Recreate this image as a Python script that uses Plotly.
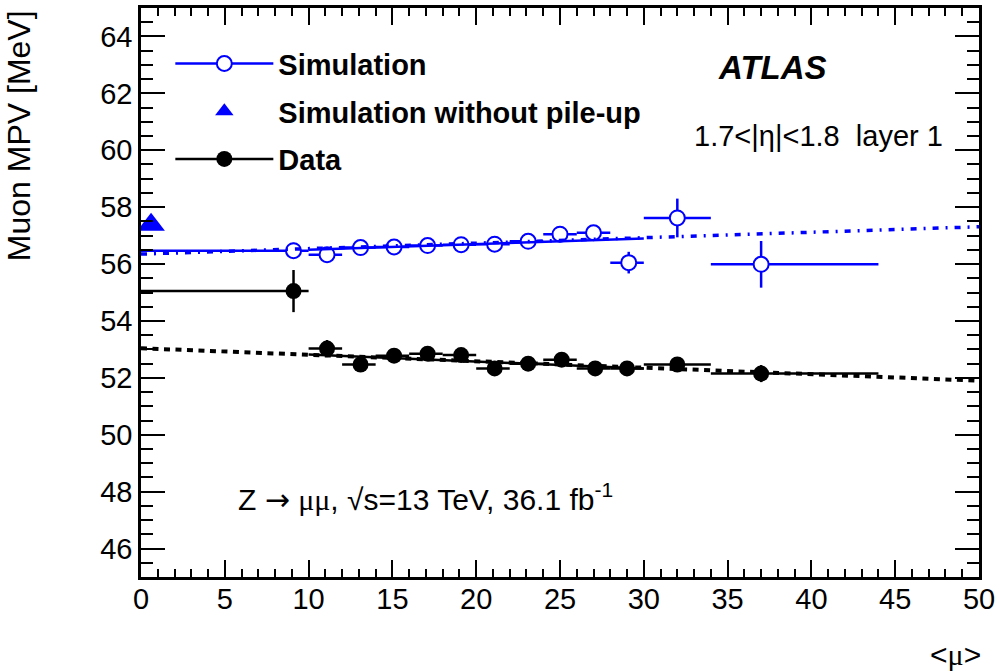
import plotly.graph_objects as go

# ---------------- data ----------------
sim_mu = [9.1, 11.1, 13.1, 15.1, 17.1, 19.1, 21.1, 23.1, 25.0, 27.0, 29.1, 32.0, 37.0]
sim_mpv = [56.47, 56.33, 56.58, 56.60, 56.65, 56.68, 56.70, 56.80, 57.05, 57.10, 56.05, 57.62, 55.99]
sim_err = [0.28, 0.25, 0.12, 0.10, 0.10, 0.10, 0.10, 0.10, 0.12, 0.15, 0.38, 0.68, 0.82]

data_mu = [9.1, 11.1, 13.1, 15.1, 17.1, 19.1, 21.1, 23.1, 25.1, 27.1, 29.0, 32.0, 37.0]
data_mpv = [55.05, 53.03, 52.47, 52.78, 52.85, 52.80, 52.33, 52.50, 52.64, 52.33, 52.33, 52.47, 52.15]
data_err = [0.74, 0.30, 0.15, 0.15, 0.15, 0.15, 0.15, 0.15, 0.15, 0.15, 0.15, 0.15, 0.30]

bin_lo = [0, 10, 12, 14, 16, 18, 20, 22, 24, 26, 28, 30, 34]
bin_hi = [10, 12, 14, 16, 18, 20, 22, 24, 26, 28, 30, 34, 44]

nopu_mu = [0.6]
nopu_mpv = [57.38]

fit_mu = [0, 50]
sim_fit_mpv = [56.35, 57.31]
data_fit_mpv = [53.04, 51.90]

fitrange_mu = [10, 30]
sim_fitrange_mpv = [56.50, 56.90]
data_fitrange_mpv = [52.82, 52.33]

x_ticks = [0, 5, 10, 15, 20, 25, 30, 35, 40, 45, 50]
y_ticks = [46, 48, 50, 52, 54, 56, 58, 60, 62, 64]

FONT = "Liberation Sans, Arial, Helvetica, sans-serif"
BLUE = "#0000ff"

def xerr(mu):
    plus = [h - m for m, h in zip(mu, bin_hi)]
    minus = [m - l for m, l in zip(mu, bin_lo)]
    return plus, minus

fig = go.Figure()

sp, sm = xerr(sim_mu)
fig.add_trace(go.Scatter(
    x=sim_mu, y=sim_mpv, mode="markers", showlegend=False,
    marker=dict(symbol="circle", size=15, color="white", line=dict(width=2, color=BLUE)),
    error_x=dict(type="data", array=sp, arrayminus=sm, color=BLUE, thickness=2.5, width=0),
    error_y=dict(type="data", array=sim_err, color=BLUE, thickness=2.5, width=0),
))
dp, dm = xerr(data_mu)
fig.add_trace(go.Scatter(
    x=data_mu, y=data_mpv, mode="markers", showlegend=False,
    marker=dict(symbol="circle", size=16, color="black"),
    error_x=dict(type="data", array=dp, arrayminus=dm, color="black", thickness=2.5, width=0),
    error_y=dict(type="data", array=data_err, color="black", thickness=2.5, width=0),
))

# fit lines (extrapolated)
fig.add_trace(go.Scatter(x=fit_mu, y=sim_fit_mpv, mode="lines", showlegend=False,
                         line=dict(color=BLUE, width=3.5, dash="6px,7px,2px,7px")))
fig.add_trace(go.Scatter(x=fit_mu, y=data_fit_mpv, mode="lines", showlegend=False,
                         line=dict(color="black", width=4, dash="6px,5.5px")))
# fit lines in fit range
fig.add_trace(go.Scatter(x=fitrange_mu, y=sim_fitrange_mpv, mode="lines", showlegend=False,
                         line=dict(color=BLUE, width=2.5)))
fig.add_trace(go.Scatter(x=fitrange_mu, y=data_fitrange_mpv, mode="lines", showlegend=False,
                         line=dict(color="black", width=2.5)))

fig.add_trace(go.Scatter(
    x=nopu_mu, y=nopu_mpv, mode="markers", showlegend=False,
    marker=dict(symbol="triangle-up", size=24, color=BLUE),
))

# legend entries
fig.add_trace(go.Scatter(x=[None], y=[None], mode="lines+markers", name="Simulation",
                         legendgroup="a",
                         line=dict(color=BLUE, width=2.5),
                         marker=dict(symbol="circle", size=15, color="white", line=dict(width=2, color=BLUE))))
fig.add_trace(go.Scatter(x=[None], y=[None], mode="markers", name="Simulation without pile-up",
                         legendgroup="b",
                         marker=dict(symbol="triangle-up", size=24, color=BLUE)))
fig.add_trace(go.Scatter(x=[None], y=[None], mode="lines+markers", name="Data",
                         legendgroup="c",
                         line=dict(color="black", width=2.5),
                         marker=dict(symbol="circle", size=16, color="black")))

axis_common = dict(
    showgrid=False, zeroline=False, showline=True, linecolor="black", linewidth=2.5,
    mirror="allticks", ticks="inside", tickcolor="black", tickwidth=1.5,
    tickfont=dict(family=FONT, size=29, color="black"),
)
fig.update_xaxes(range=[0, 50], tickvals=x_ticks, ticktext=[str(v) for v in x_ticks],
                 ticklen=17, ticklabelstandoff=-6,
                 minor=dict(dtick=1, ticklen=8, ticks="inside", tickcolor="black", tickwidth=1.5),
                 **axis_common)
fig.update_yaxes(range=[45, 65], tickvals=y_ticks, ticktext=[str(v) for v in y_ticks],
                 ticklen=24,
                 minor=dict(dtick=0.5, ticklen=12, ticks="inside", tickcolor="black", tickwidth=1.5),
                 **axis_common)

fig.update_layout(
    width=1000, height=671,
    margin=dict(l=141, r=19, t=5, b=94),
    paper_bgcolor="white", plot_bgcolor="white",
    font=dict(family=FONT, color="black"),
    legend=dict(x=0.035, y=0.947, xanchor="left", yanchor="top",
                bgcolor="rgba(0,0,0,0)", itemwidth=98, tracegroupgap=7,
                font=dict(family=FONT, size=29, color="black", weight="bold")),
    annotations=[
        dict(text="<b><i>ATLAS</i></b>", x=0.7536, y=0.895, xref="paper", yref="paper",
             xanchor="center", yanchor="middle", showarrow=False,
             font=dict(family=FONT, size=33, color="black")),
        dict(text="1.7<|η|<1.8  layer 1", x=0.96, y=0.775, xref="paper", yref="paper",
             xanchor="right", yanchor="middle", showarrow=False,
             font=dict(family=FONT, size=29, color="black")),
        dict(text="Z <span style='font-family:DejaVu Sans'>→</span> "
                  "<span style='font-family:Liberation Serif'>μμ</span>, √s=13 TeV, 36.1 fb<sup>-1</sup>",
             x=0.113, y=0.14,
             xref="paper", yref="paper", xanchor="left", yanchor="middle", showarrow=False,
             font=dict(family=FONT, size=30, color="black")),
        dict(text="Muon MPV [MeV]", x=-0.146, y=1.0, xref="paper", yref="paper",
             xanchor="center", yanchor="top", textangle=-90, showarrow=False,
             font=dict(family=FONT, size=32, color="black")),
        dict(text="&lt;<span style='font-family:Liberation Serif'>μ</span>&gt;", x=1.005, y=-0.136,
             xref="paper", yref="paper",
             xanchor="right", yanchor="middle", showarrow=False,
             font=dict(family=FONT, size=30, color="black")),
    ],
)

fig.write_html("out.html", config={"displayModeBar": False},
               post_script="document.body.style.margin='0px';document.body.style.padding='0px';")
